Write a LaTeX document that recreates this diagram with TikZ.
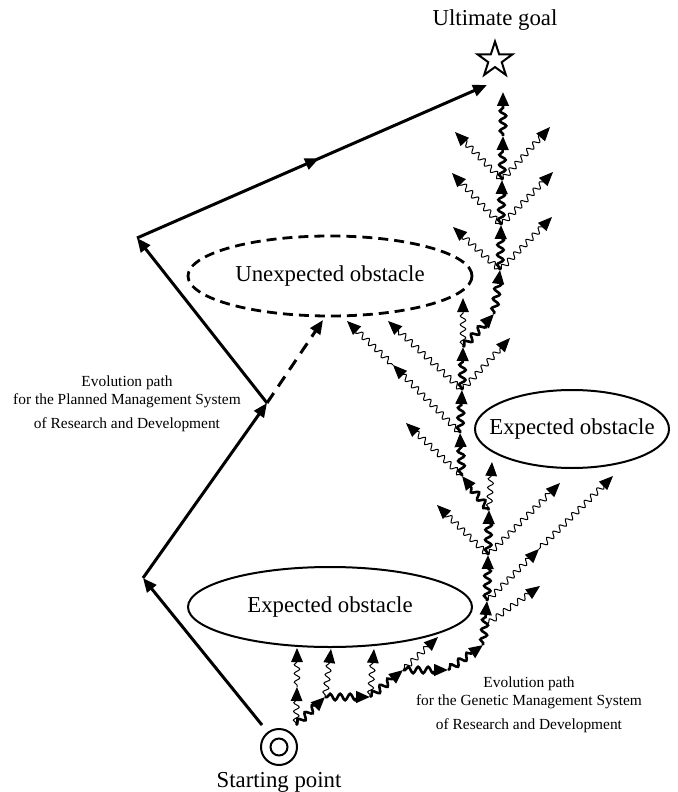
\documentclass[tikz,border=0pt]{standalone}
\usepackage{fontspec}
\setmainfont{Liberation Serif}
\usetikzlibrary{shapes.geometric,arrows.meta,positioning,decorations.pathmorphing,decorations.markings}

\begin{document}
\begin{tikzpicture}[
    x=0.5pt, y=-0.5pt,
    tip/.style={-{Triangle[length=7pt,width=5.8pt]}},
    plan/.style={tip, line width=1.5pt},
    midarrow/.style={postaction={decorate, decoration={markings, mark=at position 0.52 with {\arrow{Triangle[length=7pt,width=5.8pt]}}}}},
    trunk/.style={tip, line width=1.3pt, decorate, decoration={snake, amplitude=1.6pt, segment length=5pt, pre length=1pt, post length=5.5pt}},
    branch/.style={tip, line width=0.5pt, decorate, decoration={snake, amplitude=1.4pt, segment length=4.4pt, pre length=1pt, post length=5.5pt}},
    obstacle/.style={ellipse, draw, line width=1pt, inner sep=0pt, minimum width=142pt, minimum height=40pt},
    caption/.style={font=\fontsize{11.4}{13}\selectfont, inner sep=1pt},
    note/.style={font=\fontsize{7.7}{9}\selectfont, align=center}
]
\useasboundingbox (0,0) rectangle (677,792);

% Goal and start
\node[star, star points=5, star point ratio=2.6, draw, line width=1pt, fill=white, inner sep=0pt, minimum size=18.4pt] (goal) at (495,60) {};
\node[caption, above=3pt of goal] (goal-label) {Ultimate goal};
\node[circle, draw, line width=1pt, minimum size=18pt, inner sep=0pt] (start) at (279,747) {};
\node[circle, draw, line width=1pt, minimum size=8.5pt, inner sep=0pt] (start-in) at (start) {};
\node[caption, below=2pt of start] (start-label) {Starting point};

% Obstacles
\node[obstacle, line width=1.4pt, dash pattern=on 5pt off 3pt] (unexpected) at (330,276) {};
\node[caption] (unexpected-text) at (unexpected) {Unexpected obstacle};
\node[obstacle] (expected-low) at (330,607) {};
\node[caption] (expected-low-text) at (expected-low) {Expected obstacle};
\node[obstacle, minimum width=97pt, minimum height=39pt] (expected-right) at (572,429) {};
\node[caption] (expected-right-text) at (expected-right) {Expected obstacle};

% Labels
\node[note] (plan-label) at (127,404) {Evolution path\\for the Planned Management System\\[3pt]of Research and Development};
\node[note] (gen-label) at (529,705) {Evolution path\\for the Genetic Management System\\[3pt]of Research and Development};

% Planned path
\coordinate (p0) at (262,725);
\coordinate (p1) at (143,578);
\coordinate (p2) at (267,403);
\coordinate (p3) at (137,238);
\coordinate (p4) at (487,85);
\coordinate (p5) at (323,320);
\draw[plan] (p0) -- (p1);
\draw[plan] (p1) -- (p2);
\draw[plan] (p2) -- (p3);
\draw[plan, midarrow] (p3) -- (p4);
\draw[plan, dash pattern=on 6pt off 4pt] (p2) -- (p5);

% Genetic path: trunk
\coordinate (t0) at (296,725);
\coordinate (t1) at (325,697);
\coordinate (t2) at (370,697);
\coordinate (t3) at (403,670);
\coordinate (t4) at (448,670);
\coordinate (t5) at (483,645);
\coordinate (t6) at (487,601);
\coordinate (t7) at (488,555);
\coordinate (t8) at (489,510);
\coordinate (t9) at (462,476);
\coordinate (t10) at (460,433);
\coordinate (t11) at (462,390);
\coordinate (t12) at (463,347);
\coordinate (t13) at (494,314);
\coordinate (t14) at (500,270);
\coordinate (t15) at (501,225);
\coordinate (t16) at (502,180);
\coordinate (t17) at (503,136);
\coordinate (t18) at (503,92);
\foreach \a/\b in {t0/t1,t1/t2,t2/t3,t3/t4,t4/t5,t5/t6,t6/t7,t7/t8,t8/t9,t9/t10,t10/t11,t11/t12,t12/t13,t13/t14,t14/t15,t15/t16,t16/t17,t17/t18}
    \draw[trunk] (\a) -- (\b);

% Genetic path: trials
\coordinate (j1) at (487,624);
\coordinate (q1) at (297,687);
\coordinate (q2) at (297,648);
\coordinate (q3) at (331,649);
\coordinate (q4) at (374,649);
\coordinate (q5) at (438,637);
\coordinate (q6) at (540,586);
\coordinate (r1) at (539,549);
\coordinate (r2) at (613,476);
\coordinate (q7) at (560,483);
\coordinate (q8) at (437,505);
\coordinate (q9) at (492,462);
\coordinate (q10) at (406,423);
\coordinate (u1) at (393,365);
\coordinate (u2) at (347,321);
\coordinate (q11) at (388,321);
\coordinate (q12) at (510,338);
\coordinate (q13) at (463,298);
\coordinate (q14) at (453,227);
\coordinate (q15) at (552,217);
\coordinate (q16) at (452,173);
\coordinate (q17) at (553,172);
\coordinate (q18) at (455,132);
\coordinate (q19) at (550,127);
\foreach \a/\b in {t0/q1,q1/q2,t1/q3,t2/q4,t3/q5,j1/q6,t6/r1,r1/r2,t7/q7,t7/q8,t8/q9,t9/q10,t10/u1,u1/u2,t11/q11,t11/q12,t12/q13,t14/q14,t14/q15,t15/q16,t15/q17,t16/q18,t16/q19}
    \draw[branch] (\a) -- (\b);

\end{tikzpicture}
\end{document}
